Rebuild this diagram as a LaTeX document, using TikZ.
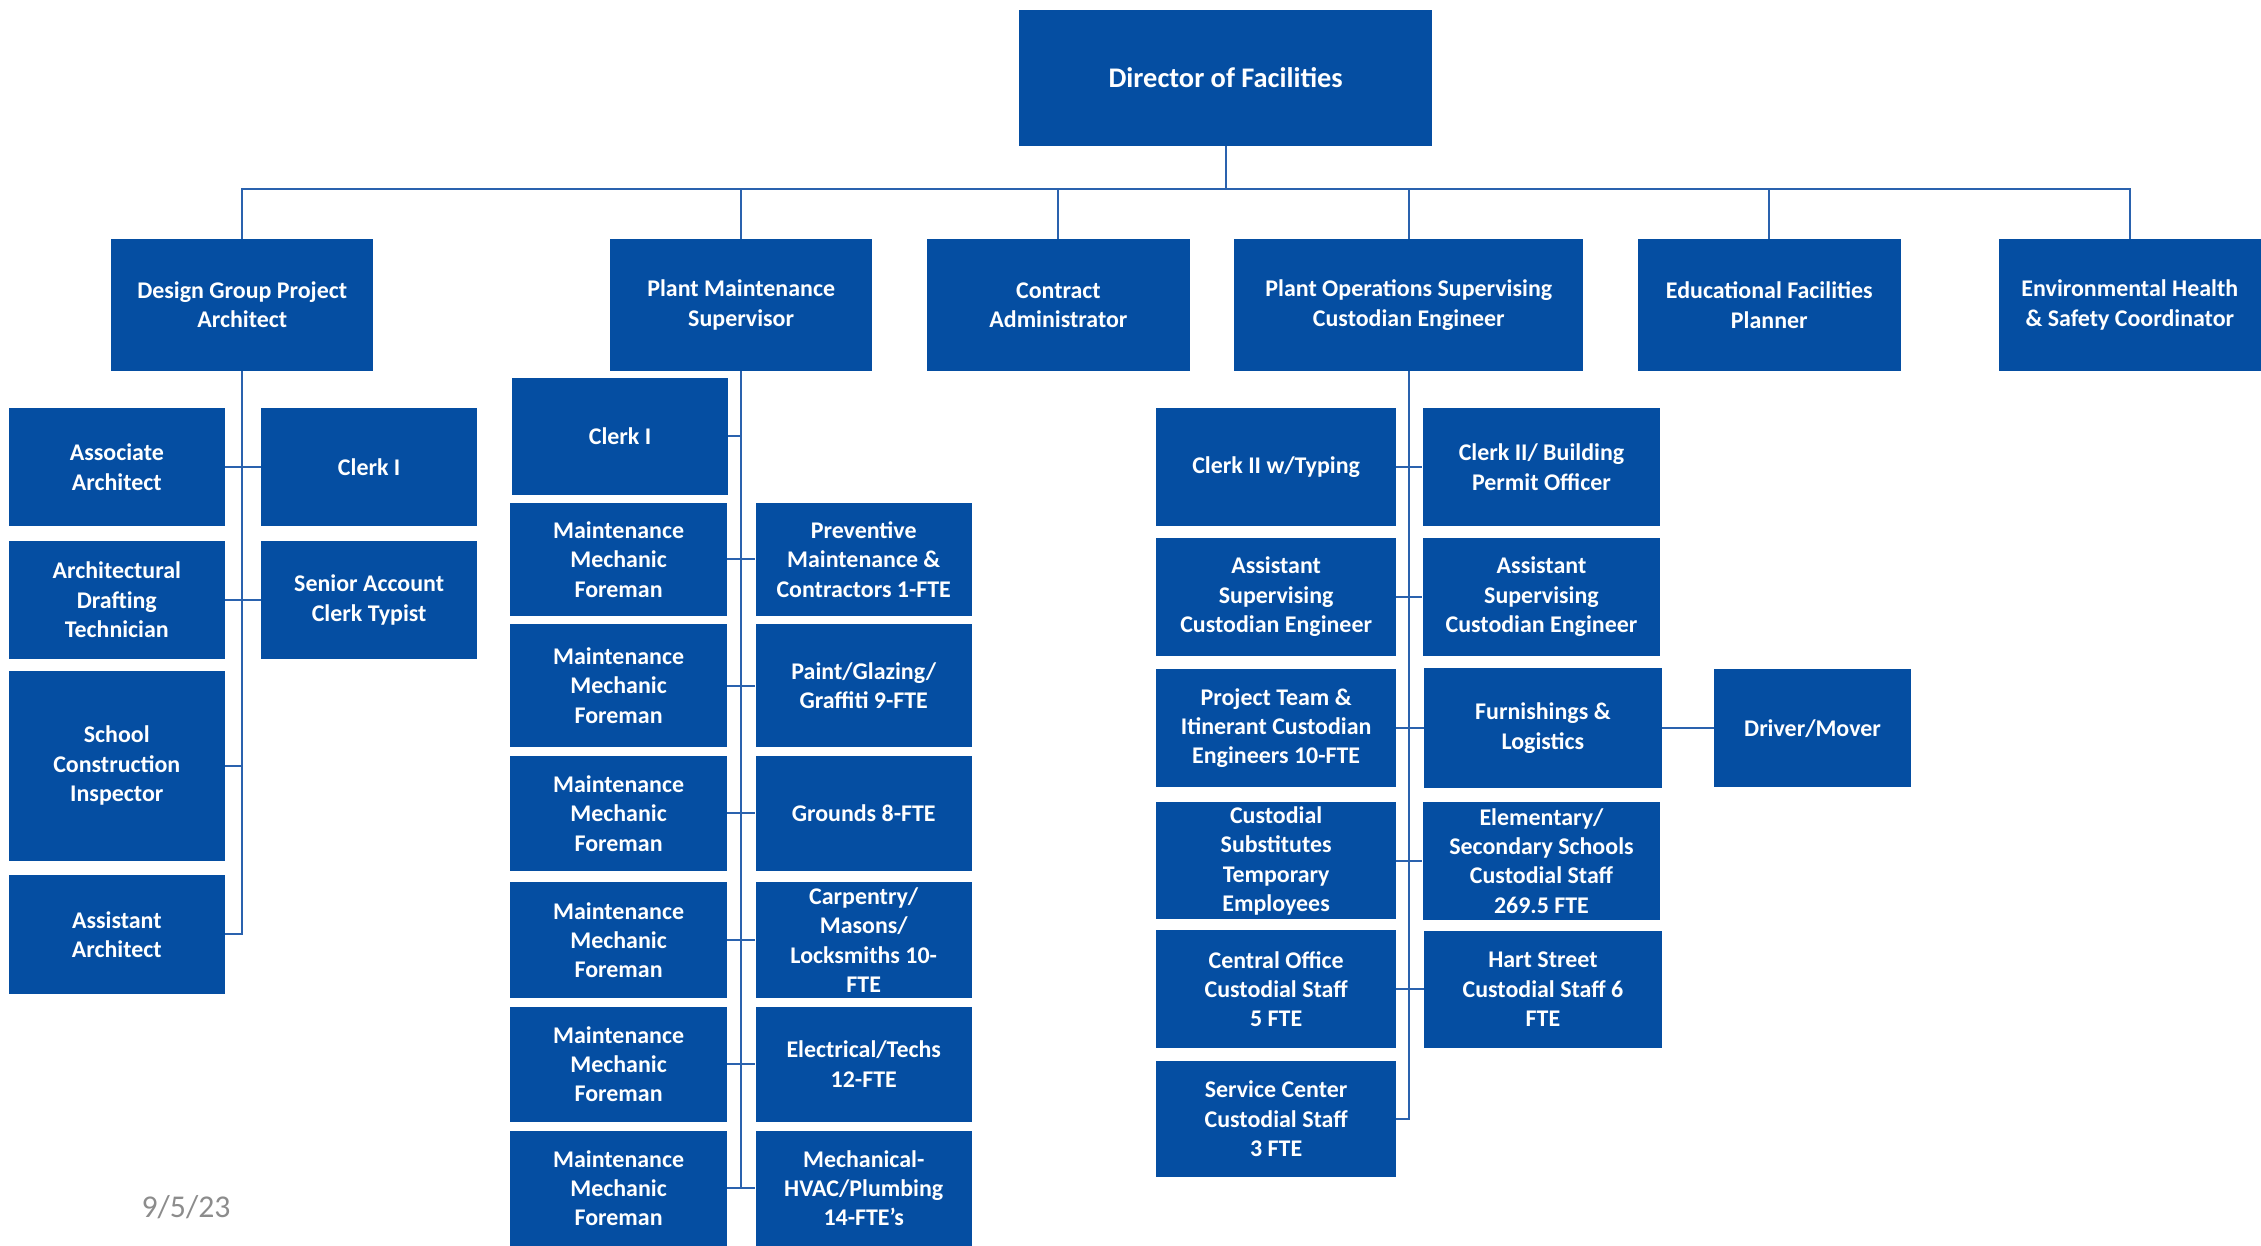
\documentclass[tikz,border=0pt]{standalone}
\usepackage{fontspec}
\setmainfont{Carlito}
\usepackage{xcolor}
\usepackage{tikz}
\usetikzlibrary{positioning,calc}
\definecolor{facblue}{HTML}{054EA2}
\definecolor{linkblue}{HTML}{2A62AE}
\definecolor{dategray}{HTML}{8C8C8C}
\tikzset{
  rolebox/.style ={draw=none,fill=facblue,text=white,inner sep=2pt,align=center,
                   font=\bfseries\fontsize{16.6}{20.4}\selectfont},
  headbox/.style ={rolebox,font=\bfseries\fontsize{19.7}{23}\selectfont},
  lvlbox/.style  ={rolebox,minimum height=91},
  staffbox/.style={rolebox,minimum width=150},
  opsbox/.style  ={rolebox,minimum width=166},
  link/.style    ={draw=linkblue,line width=1.4pt}
}

\begin{document}
\begin{tikzpicture}[x=1pt,y=-1pt]
    \useasboundingbox (0,0) rectangle (1568,864);
    \node[headbox,minimum width=286,minimum height=94] (dir) at (850,54) {Director of Facilities};
    \node[lvlbox,minimum width=182] (dga) at (168,211.5) {Design Group Project\\Architect};
    \node[lvlbox,minimum width=182] (pms) at (514,211.5) {Plant Maintenance\\Supervisor};
    \node[lvlbox,minimum width=182] (ca) at (734,211.5) {Contract\\Administrator};
    \node[lvlbox,minimum width=242] (pos) at (977,211.5) {Plant Operations Supervising\\Custodian Engineer};
    \node[lvlbox,minimum width=182] (efp) at (1227,211.5) {Educational Facilities\\Planner};
    \node[lvlbox,minimum width=182] (ehs) at (1477,211.5) {Environmental Health\\\& Safety Coordinator};
    \coordinate (bus) at (850,131);
    \draw[link] (dir.south) -- (bus);
    \foreach \n in {dga,pms,ca,pos,efp,ehs} \draw[link] (\n.north) |- (bus);
    % design group
    \node[staffbox,minimum height=82] (asc) at (81,324) {Associate\\Architect};
    \node[staffbox,minimum height=82] (dft) at (81,416) {Architectural\\Drafting\\Technician};
    \node[staffbox,minimum height=132] (sci) at (81,531) {School\\Construction\\Inspector};
    \node[staffbox,minimum height=82] (aar) at (81,648) {Assistant\\Architect};
    \node[staffbox,minimum height=82] (dclk) at (256,324) {Clerk I};
    \node[staffbox,minimum height=82] (sac) at (256,416) {Senior Account\\Clerk Typist};
    \draw[link] (dga.south) |- (aar.east);
    \draw[link] (asc.east) -- (dclk.west);
    \draw[link] (dft.east) -- (sac.west);
    \draw[link] (sci.east) -- (sci.east -| dga.south);
    % plant maintenance
    \node[staffbox,minimum height=81] (pclk) at (430,302.5) {Clerk I};
    \foreach \i/\y/\h in {1/388/78,2/475.5/85,3/564/80,4/652/80,5/738/80,6/824/80}
      \node[staffbox,minimum height=\h] (mf\i) at (429,\y) {Maintenance\\Mechanic\\Foreman};
    \node[staffbox,minimum height=78] (pm1) at (599,388) {Preventive\\Maintenance \&\\Contractors 1-FTE};
    \node[staffbox,minimum height=85] (pm2) at (599,475.5) {Paint/Glazing/\\Graffiti 9-FTE};
    \node[staffbox,minimum height=80] (pm3) at (599,564) {Grounds 8-FTE};
    \node[staffbox,minimum height=80] (pm4) at (599,652) {Carpentry/\\Masons/\\Locksmiths 10-\\FTE};
    \node[staffbox,minimum height=80] (pm5) at (599,738) {Electrical/Techs\\12-FTE};
    \node[staffbox,minimum height=80] (pm6) at (599,824) {Mechanical-\\HVAC/Plumbing\\14-FTE’s};
    \draw[link] (pms.south) -- (pms.south |- mf6.east);
    \draw[link] (pclk.east) -- (pclk.east -| pms.south);
    \foreach \i in {1,...,6} \draw[link] (mf\i.east) -- (pm\i.west);
    % plant operations
    \node[opsbox,minimum height=82] (c2t) at (885,324) {Clerk II w/Typing};
    \node[opsbox,minimum height=82] (asce1) at (885,414) {Assistant\\Supervising\\Custodian Engineer};
    \node[opsbox,minimum height=82] (ptm) at (885,505) {Project Team \&\\Itinerant Custodian\\Engineers 10-FTE};
    \node[opsbox,minimum height=81] (csub) at (885,597) {Custodial\\Substitutes\\Temporary\\Employees};
    \node[opsbox,minimum height=82] (cof) at (885,686) {Central Office\\Custodial Staff\\5 FTE};
    \node[opsbox,minimum height=81] (svc) at (885,776) {Service Center\\Custodial Staff\\3 FTE};
    \node[opsbox,minimum width=165,minimum height=82] (c2b) at (1069,324) {Clerk II/ Building\\Permit Officer};
    \node[opsbox,minimum width=165,minimum height=82] (asce2) at (1069,414) {Assistant\\Supervising\\Custodian Engineer};
    \node[opsbox,minimum width=165,minimum height=83] (fur) at (1070,505) {Furnishings \&\\Logistics};
    \node[opsbox,minimum width=165,minimum height=82] (ele) at (1069,597) {Elementary/\\Secondary Schools\\Custodial Staff\\269.5 FTE};
    \node[opsbox,minimum width=165,minimum height=81] (hart) at (1070,686) {Hart Street\\Custodial Staff 6\\FTE};
    \node[rolebox,minimum width=137,minimum height=82] (drv) at (1257,505) {Driver/Mover};
    \draw[link] (pos.south) |- (svc.east);
    \foreach \a/\b in {c2t/c2b,asce1/asce2,ptm/fur,csub/ele,cof/hart} \draw[link] (\a.east) -- (\b.west);
    \draw[link] (fur.east) -- (drv.west);
    \node[text=dategray,font=\fontsize{22}{26}\selectfont] (date) at (129,837) {9/5/23};
\end{tikzpicture}
\end{document}
